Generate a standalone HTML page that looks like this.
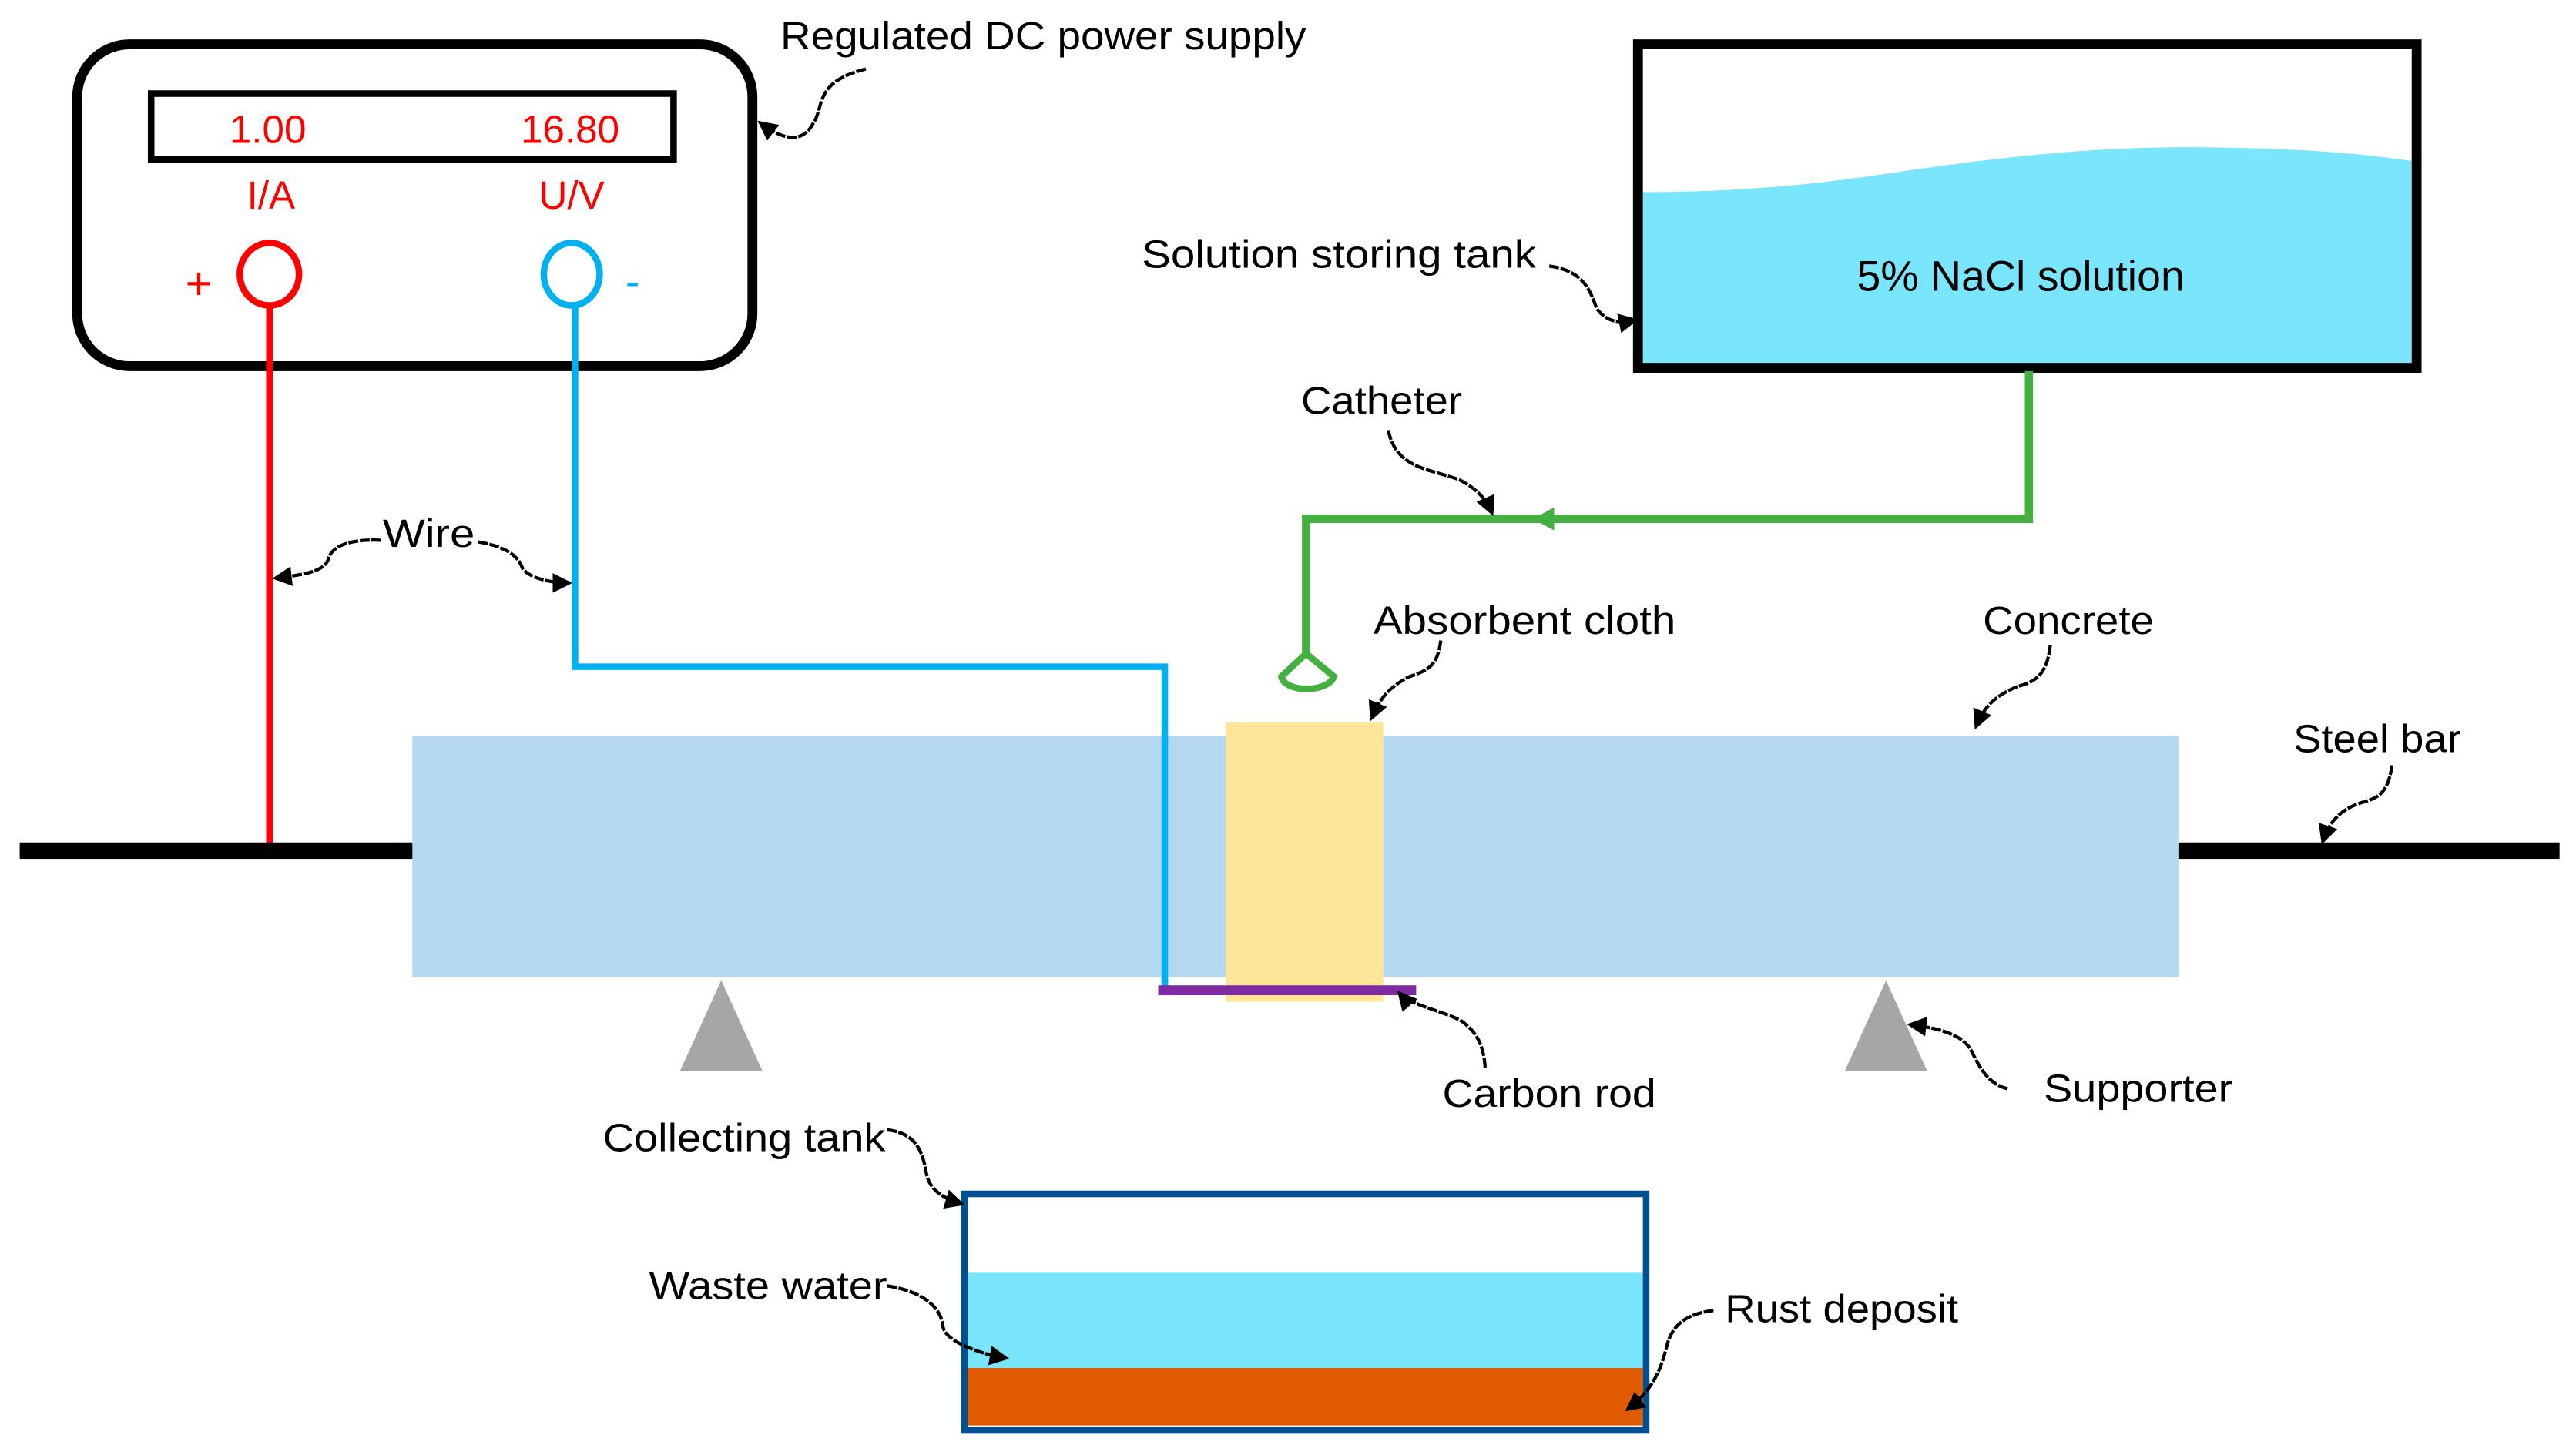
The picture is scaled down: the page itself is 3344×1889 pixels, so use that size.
<!DOCTYPE html>
<html><head><meta charset="utf-8"><style>
html,body{margin:0;padding:0;background:#fff;}
svg{display:block;}
text{font-family:"Liberation Sans",sans-serif;}
</style></head><body>
<svg width="3344" height="1889" viewBox="0 0 1568 886" preserveAspectRatio="none" xmlns="http://www.w3.org/2000/svg">
<defs>
<marker id="ah" viewBox="0 0 10 10" refX="8" refY="5" markerWidth="6" markerHeight="6" orient="auto-start-reverse"><path d="M0,0 L10,5 L0,10 z" fill="#000"/></marker>
</defs>
<!-- power supply -->
<rect x="47" y="27" width="411" height="196" rx="32" fill="#fff" stroke="#000" stroke-width="6"/>
<rect x="92" y="57" width="318" height="40" fill="#fff" stroke="#000" stroke-width="4"/>
<text x="163" y="87" font-size="24" fill="#f00" text-anchor="middle">1.00</text>
<text x="347" y="87" font-size="24" fill="#f00" text-anchor="middle">16.80</text>
<text x="165" y="127" font-size="24" fill="#f00" text-anchor="middle">I/A</text>
<text x="348" y="127" font-size="24" fill="#f00" text-anchor="middle">U/V</text>
<text x="121" y="182" font-size="28" fill="#f00" text-anchor="middle">+</text>
<text x="385" y="180" font-size="26" fill="#00b0f0" text-anchor="middle">-</text>
<!-- wires -->
<line x1="164" y1="185" x2="164" y2="518" stroke="#f00" stroke-width="4"/>
<polyline points="350,185 350,406 709,406 709,603" fill="none" stroke="#00b0f0" stroke-width="4"/>
<ellipse cx="164" cy="167" rx="18" ry="19" fill="#fff" stroke="#f00" stroke-width="4"/>
<ellipse cx="348" cy="167" rx="17" ry="19" fill="#fff" stroke="#00b0f0" stroke-width="4"/>
<!-- steel bar -->
<rect x="12" y="513" width="1546" height="10" fill="#000"/>
<!-- concrete -->
<rect x="251" y="448" width="1075" height="147" fill="#b4d8ef"/>
<line x1="709" y1="448" x2="709" y2="603" stroke="#00b0f0" stroke-width="4"/>
<rect x="746" y="440" width="96" height="170" fill="#fde699"/>
<rect x="705" y="600" width="157" height="6" fill="#7f2aa0"/>
<!-- supporters -->
<polygon points="439,597 414,652 464,652" fill="#a6a6a6"/>
<polygon points="1148,597 1123,652 1173,652" fill="#a6a6a6"/>
<!-- solution tank -->
<path d="M1000,117 C1060,117 1110,112 1160,104 C1230,94 1290,88 1360,90 C1410,91 1440,94 1468,98 L1468,222 L1000,222 Z" fill="#7ae6fd"/>
<rect x="997" y="27" width="474" height="197" fill="none" stroke="#000" stroke-width="6"/>
<text x="1230" y="177" font-size="26" text-anchor="middle" fill="#000">5% NaCl solution</text>
<!-- catheter -->
<polyline points="1235,226 1235,316 795,316 795,398" fill="none" stroke="#44b040" stroke-width="5"/>
<polygon points="933,316 946,309 946,323" fill="#44b040"/>
<path d="M795,398 L780,412 C782,422 808,422 812,412 Z" fill="none" stroke="#44b040" stroke-width="4"/>
<!-- collecting tank -->
<rect x="589" y="775" width="411" height="58" fill="#7ae6fd"/>
<rect x="589" y="833" width="411" height="35" fill="#e05a00"/>
<rect x="587" y="727" width="415" height="144" fill="none" stroke="#00508f" stroke-width="4"/>
<!-- labels -->
<g font-size="24" fill="#000">
<text x="475" y="30" textLength="320" lengthAdjust="spacingAndGlyphs">Regulated DC power supply</text>
<text x="695" y="163" textLength="240" lengthAdjust="spacingAndGlyphs">Solution storing tank</text>
<text x="792" y="252" textLength="98" lengthAdjust="spacingAndGlyphs">Catheter</text>
<text x="233" y="333" textLength="56" lengthAdjust="spacingAndGlyphs">Wire</text>
<text x="836" y="386" textLength="184" lengthAdjust="spacingAndGlyphs">Absorbent cloth</text>
<text x="1207" y="386" textLength="104" lengthAdjust="spacingAndGlyphs">Concrete</text>
<text x="1396" y="458" textLength="102" lengthAdjust="spacingAndGlyphs">Steel bar</text>
<text x="878" y="674" textLength="130" lengthAdjust="spacingAndGlyphs">Carbon rod</text>
<text x="1244" y="671" textLength="115" lengthAdjust="spacingAndGlyphs">Supporter</text>
<text x="367" y="701" textLength="172" lengthAdjust="spacingAndGlyphs">Collecting tank</text>
<text x="395" y="791" textLength="145" lengthAdjust="spacingAndGlyphs">Waste water</text>
<text x="1050" y="805" textLength="142" lengthAdjust="spacingAndGlyphs">Rust deposit</text>
</g>
<!-- callouts -->
<g fill="none" stroke="#000" stroke-width="2" stroke-dasharray="6,1" marker-end="url(#ah)">
<path d="M527,42 C495,50 502,65 495,75 C490,85 480,88 463,75"/>
<path d="M943,162 C965,165 968,178 972,188 C978,196 985,197 995,195"/>
<path d="M845,262 C850,285 868,285 888,292 C900,298 905,305 908,312"/>
<path d="M232,329 C212,328 202,333 200,340 C198,348 185,350 168,352"/>
<path d="M291,330 C310,333 316,340 318,346 C322,352 335,355 346,355"/>
<path d="M877,390 C875,405 870,408 858,412 C846,418 840,425 835,437"/>
<path d="M1248,393 C1246,410 1240,415 1228,418 C1214,424 1208,430 1203,442"/>
<path d="M1456,466 C1454,480 1450,485 1440,488 C1425,492 1418,500 1414,512"/>
<path d="M904,650 C903,635 898,628 890,622 C880,616 858,612 852,605"/>
<path d="M1222,663 C1210,660 1205,650 1200,640 C1195,630 1180,626 1163,624"/>
<path d="M540,688 C560,690 562,705 564,715 C566,725 575,730 585,733"/>
<path d="M540,783 C560,786 573,795 574,808 C576,818 600,825 612,827"/>
<path d="M1043,798 C1025,800 1018,808 1015,818 C1012,830 1008,845 991,858"/>
</g>
</svg>
</body></html>
